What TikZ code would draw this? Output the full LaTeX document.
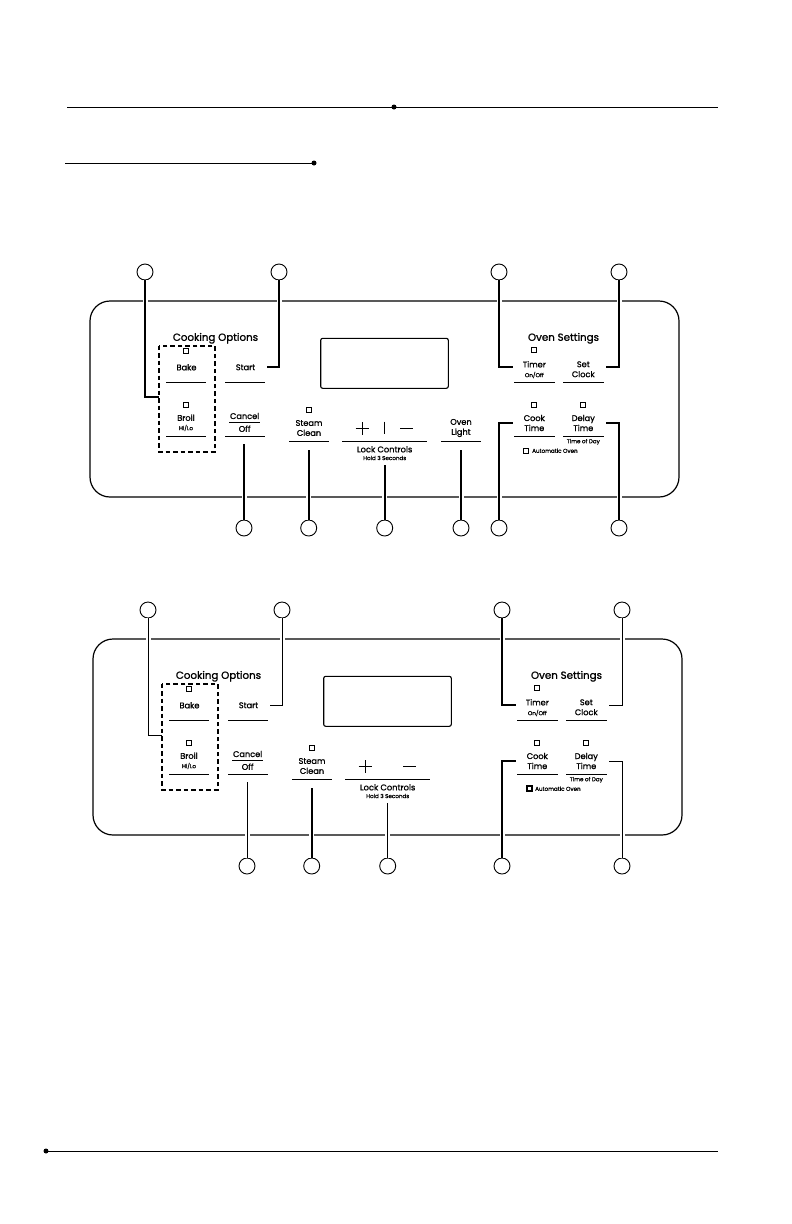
\documentclass[tikz,border=0pt]{standalone}
\usepackage{fontspec}
\setmainfont{Poppins}[FakeBold=1.3]
\usepackage{tikz}

\begin{document}
\begin{tikzpicture}[x=1pt, y=-1pt,
    callout/.style={circle, draw, line width=0.9pt, minimum size=16pt, inner sep=0pt, fill=white},
    leader/.style={line width=1.8pt, preaction={draw=white, line width=5pt}},
    keyname/.style={font=\fontsize{8.2}{10}\selectfont, align=center, inner sep=0pt},
    subname/.style={font=\fontsize{5.6}{6}\selectfont, inner sep=0pt},
    heading/.style={font=\fontsize{10.3}{11}\selectfont, inner sep=0pt},
    led/.style={draw, line width=0.8pt, minimum size=5pt, inner sep=0pt},
    keyline/.style={line width=0.9pt},
    panel/.style={line width=1.2pt, rounded corners=20pt},
    dashbox/.style={line width=1.6pt, dash pattern=on 4.5pt off 3pt}]
    \useasboundingbox (0,0) rectangle (792,1224);

    % Rules at the head and foot of the page
    \draw[line width=1pt] (67,107) -- (718,107);
    \fill (394,107) circle (2.5pt);
    \draw[line width=1pt] (65,163) -- (314,163);
    \fill (314,163) circle (2.5pt);
    \draw[line width=1pt] (46,1151) -- (718,1151);
    \fill (46,1151) circle (2.5pt);

    % The two control panels
    \foreach \p/\dx/\dy/\lw/\aw in {1/0/0/1.8pt/0.8pt, 2/3/338/0.9pt/1.8pt} {
    \begin{scope}[shift={(\dx,\dy)}]
        % Panel outline and display window
        \draw[panel] (90,301) rectangle (679,497);
        \draw[line width=1.1pt, rounded corners=2pt] (320.7,338.3) rectangle (448.3,388.3);

        % Callout circles
        \node[callout] (bakeC-\p) at (145,272) {};
        \node[callout] (startC-\p) at (279,272) {};
        \node[callout] (timerC-\p) at (499,272) {};
        \node[callout] (clockC-\p) at (619,272) {};
        \node[callout] (cancelC-\p) at (244,528) {};
        \node[callout] (steamC-\p) at (308.7,528) {};
        \node[callout] (lockC-\p) at (384.7,528) {};
        \node[callout] (cookC-\p) at (499,528) {};
        \node[callout] (delayC-\p) at (619,528) {};

        % Leader ends
        \coordinate (bakeP-\p) at (159,397.3);
        \coordinate (startP-\p) at (267,367);
        \coordinate (timerP-\p) at (512.7,367);
        \coordinate (clockP-\p) at (606,367);
        \coordinate (cancelP-\p) at (244,444);
        \coordinate (steamP-\p) at (308.7,450);
        \coordinate (lockP-\p) at (384.7,465);
        \coordinate (cookP-\p) at (512.7,423);
        \coordinate (delayP-\p) at (606,423);

        % Leaders
        \draw[leader, line width=\lw] (bakeC-\p) |- (bakeP-\p);
        \draw[leader, line width=\lw] (startC-\p) |- (startP-\p);
        \draw[leader] (timerC-\p) |- (timerP-\p);
        \draw[leader, line width=\lw] (clockC-\p) |- (clockP-\p);
        \draw[leader, line width=\lw] (cancelC-\p) -- (cancelP-\p);
        \draw[leader] (steamC-\p) -- (steamP-\p);
        \draw[leader, line width=\lw] (lockC-\p) -- (lockP-\p);
        \draw[leader] (cookC-\p) |- (cookP-\p);
        \draw[leader, line width=\lw] (delayC-\p) |- (delayP-\p);

        % Cooking options
        \node[heading] (cookOpt-\p) at (215.5,338.3) {Cooking Options};
        \node[led] (bakeL-\p) at (186,350.7) {};
        \node[keyname] (bake-\p) at (186.5,367.3) {Bake};
        \draw[keyline] (166,382.3) -- (206,382.3);
        \node[led] (broilL-\p) at (186,404.7) {};
        \node[keyname] (broil-\p) at (186,417.7) {Broil};
        \node[subname] (hilo-\p) at (186,428) {Hi/Lo};
        \draw[keyline] (166,436) -- (206,436);
        \draw[dashbox] (159,345.7) rectangle (214.7,451.7);
        \node[keyname] (start-\p) at (245.5,367.3) {Start};
        \draw[keyline] (225,382.3) -- (264.7,382.3);
        \node[keyname] (cancel-\p) at (244.7,416) {Cancel};
        \draw[line width=0.6pt] (229,422.3) -- (260,422.3);
        \node[keyname] (off-\p) at (244.7,428.7) {Off};
        \draw[keyline] (225,436) -- (264.7,436);

        % Steam clean
        \node[led] (steamL-\p) at (309,410.3) {};
        \node[keyname] (steam-\p) at (309,428) {Steam\\Clean};
        \draw[keyline] (289.3,441.3) -- (328.7,441.3);

        % Plus, minus and lock
        \draw[line width=1.3pt] (355.6,428.7) -- (369,428.7) (362.3,422.3) -- (362.3,435.1);
        \draw[line width=1.5pt] (400,428.7) -- (413.4,428.7);
        \ifnum\p=1 \draw[line width=0.9pt] (384.7,421.7) -- (384.7,434); \fi
        \draw[keyline] (342,441.3) -- (426.7,441.3);
        \node[font=\fontsize{8.3}{9}\selectfont, inner sep=0pt] (lock-\p) at (384.7,449.3) {Lock Controls};
        \node[subname] (hold-\p) at (384.7,458) {Hold 3 Seconds};

        % Oven light, first panel only
        \ifnum\p=1
            \node[callout] (lightC-\p) at (461,528) {};
            \coordinate (lightP-\p) at (461,450);
            \draw[leader] (lightC-\p) -- (lightP-\p);
            \node[keyname] (light-\p) at (461,428) {Oven\\Light};
            \draw[keyline] (441,441.3) -- (480.7,441.3);
        \fi

        % Oven settings
        \node[heading] (ovenSet-\p) at (563.5,338.3) {Oven Settings};
        \node[led] (timerL-\p) at (534,350) {};
        \node[keyname] (timer-\p) at (534.3,364.3) {Timer};
        \node[subname] (onoff-\p) at (534.3,375) {On/Off};
        \draw[keyline] (514,382.3) -- (554.7,382.3);
        \node[keyname] (clock-\p) at (583.3,369.3) {Set\\Clock};
        \draw[keyline] (563,382.3) -- (603.7,382.3);
        \node[led] (cookL-\p) at (534,404.7) {};
        \node[keyname] (cook-\p) at (534.3,423) {Cook\\Time};
        \draw[keyline] (514,436.3) -- (554.7,436.3);
        \node[led] (delayL-\p) at (583.3,404.7) {};
        \node[keyname] (delay-\p) at (583.3,423) {Delay\\Time};
        \draw[keyline] (563,436.3) -- (603.7,436.3);
        \node[subname] (tod-\p) at (583.3,441.8) {Time of Day};
        \node[led, line width=\aw] (autoL-\p) at (526.3,450.7) {};
        \node[subname, anchor=west] (auto-\p) at (532,450.7) {Automatic Oven};
    \end{scope}
    }
\end{tikzpicture}
\end{document}
